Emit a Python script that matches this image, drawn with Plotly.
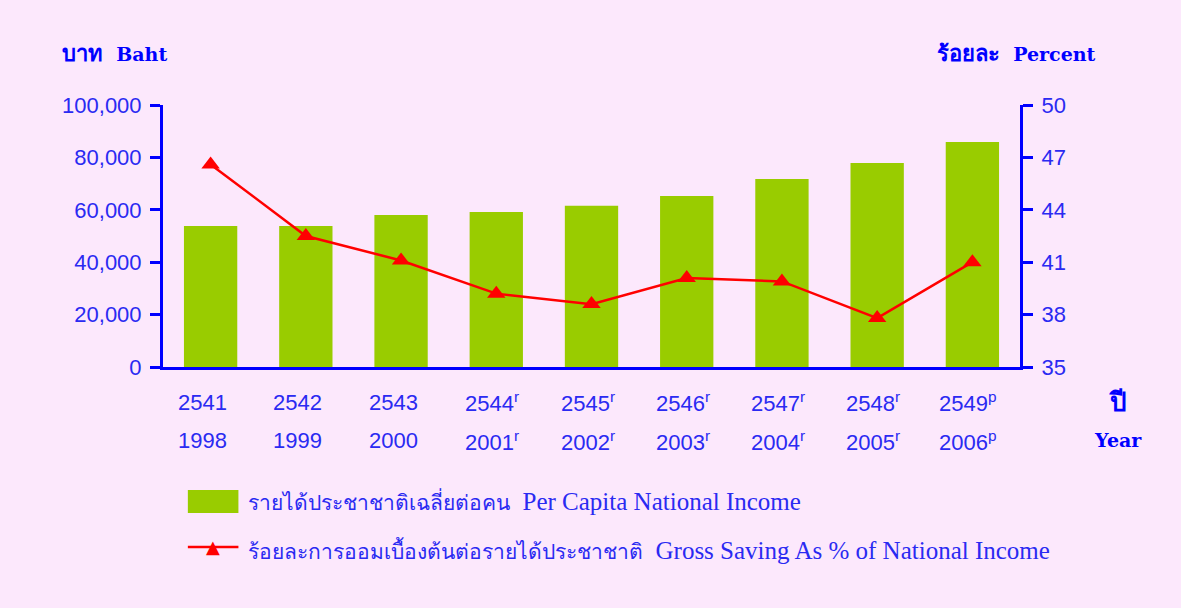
import plotly.graph_objects as go

# ---------------- data ----------------
years_be = ["2541", "2542", "2543", "2544", "2545", "2546", "2547", "2548", "2549"]
years_ad = ["1998", "1999", "2000", "2001", "2002", "2003", "2004", "2005", "2006"]
marks = ["", "", "", "r", "r", "r", "r", "r", "p"]
income = [53800, 53800, 58000, 59200, 61500, 65300, 71800, 77900, 85900]
saving_pct = [46.6, 42.5, 41.1, 39.2, 38.6, 40.1, 39.9, 37.8, 41.0]

name_income_th = "รายได้ประชาชาติเฉลี่ยต่อคน"
name_income_en = "Per Capita National Income"
name_saving_th = "ร้อยละการออมเบื้องต้นต่อรายได้ประชาชาติ"
name_saving_en = "Gross Saving As % of National Income"

BG = "#FCE8FC"
BLUE = "#0000FF"
TXT = "#2A2AF2"
GREEN = "#99CC00"
RED = "#FF0000"
NUMFONT = "Liberation Sans Narrow, Liberation Sans, sans-serif"
SERIF = "Liberation Serif, DejaVu Serif, serif"

x = list(range(len(years_be)))

fig = go.Figure()
fig.add_trace(go.Bar(x=x, y=income, marker=dict(color=GREEN, line=dict(width=0)),
                     width=0.56, name=name_income_th + "  " + name_income_en,
                     showlegend=False, yaxis="y"))
fig.add_trace(go.Scatter(x=x, y=saving_pct, mode="lines+markers", yaxis="y2",
                         line=dict(color=RED, width=2.5),
                         marker=dict(symbol="triangle-up", size=16, color=RED),
                         name=name_saving_th + "  " + name_saving_en, showlegend=False))

annotations = []
for i, (be, ad, m) in enumerate(zip(years_be, years_ad, marks)):
    sup = f"<sup>{m}</sup>" if m else ""
    for label, yy in ((be, -0.134), (ad, -0.282)):
        annotations.append(dict(x=i, y=yy, xref="x", yref="paper", text=label + sup,
                                showarrow=False, xanchor="center", yanchor="middle",
                                xshift=-4 if m else -8,
                                font=dict(family=NUMFONT, size=22, color=TXT)))


def sz(s, size):
    return f"<span style='font-size:{size}px'>{s}</span>"


title_font = dict(family="DejaVu Serif, serif", size=19, color=BLUE)
annotations += [
    dict(x=-0.12, y=1.198, xref="paper", yref="paper",
         text="<b>" + sz("บาท", 22) + sz("  Baht", 19) + "</b>",
         showarrow=False, xanchor="left", yanchor="middle", font=title_font),
    dict(x=1.091, y=1.198, xref="paper", yref="paper",
         text="<b>" + sz("ร้อยละ", 22) + sz("  Percent", 19) + "</b>",
         showarrow=False, xanchor="right", yanchor="middle", font=title_font),
    dict(x=1.114, y=-0.134, xref="paper", yref="paper", text="<b>" + sz("ปี", 26) + "</b>",
         showarrow=False, xanchor="center", yanchor="middle", font=title_font),
    dict(x=1.114, y=-0.279, xref="paper", yref="paper", text="<b>Year</b>",
         showarrow=False, xanchor="center", yanchor="middle", font=title_font),
    # legend texts
    dict(x=0.0969, y=-0.515, xref="paper", yref="paper",
         text=sz(name_income_th, 21) + sz("  " + name_income_en, 25),
         showarrow=False, xanchor="left", yanchor="middle",
         font=dict(family=SERIF, size=25, color=TXT)),
    dict(x=0.0969, y=-0.700, xref="paper", yref="paper",
         text=sz(name_saving_th, 21) + sz("  " + name_saving_en, 25),
         showarrow=False, xanchor="left", yanchor="middle",
         font=dict(family=SERIF, size=25, color=TXT)),
    dict(x=0.0584, y=-0.687, xref="paper", yref="paper", text="▲",
         showarrow=False, xanchor="center", yanchor="middle",
         font=dict(family="DejaVu Sans", size=18, color=RED)),
]

shapes = [
    dict(type="rect", xref="paper", yref="paper", x0=0.029, x1=0.088, y0=-0.557, y1=-0.469,
         fillcolor=GREEN, line=dict(width=0)),
    dict(type="line", xref="paper", yref="paper", x0=0.029, x1=0.088, y0=-0.687, y1=-0.687,
         line=dict(color=RED, width=2.5)),
]

fig.update_layout(
    width=1181, height=608,
    margin=dict(l=163, r=161, t=105, b=241),
    paper_bgcolor=BG, plot_bgcolor=BG,
    showlegend=False,
    xaxis=dict(range=[-0.5, 8.5], showticklabels=False, ticks="", showgrid=False,
               zeroline=False, showline=True, linecolor=BLUE, linewidth=3),
    yaxis=dict(range=[0, 100000], tickvals=[0, 20000, 40000, 60000, 80000, 100000],
               tickformat=",", ticks="outside", ticklen=10, tickwidth=2.5, tickcolor=BLUE,
               showline=True, linecolor=BLUE, linewidth=3, showgrid=False, zeroline=False,
               tickfont=dict(family=NUMFONT, size=22, color=TXT), ticklabelstandoff=4),
    yaxis2=dict(range=[35, 50], tickvals=[35, 38, 41, 44, 47, 50], overlaying="y", side="right",
                ticks="outside", ticklen=10, tickwidth=2.5, tickcolor=BLUE,
                showline=True, linecolor=BLUE, linewidth=3, showgrid=False, zeroline=False,
                tickfont=dict(family=NUMFONT, size=22, color=TXT), ticklabelstandoff=4),
    annotations=annotations,
    shapes=shapes,
)

fig.write_html("out.html")
